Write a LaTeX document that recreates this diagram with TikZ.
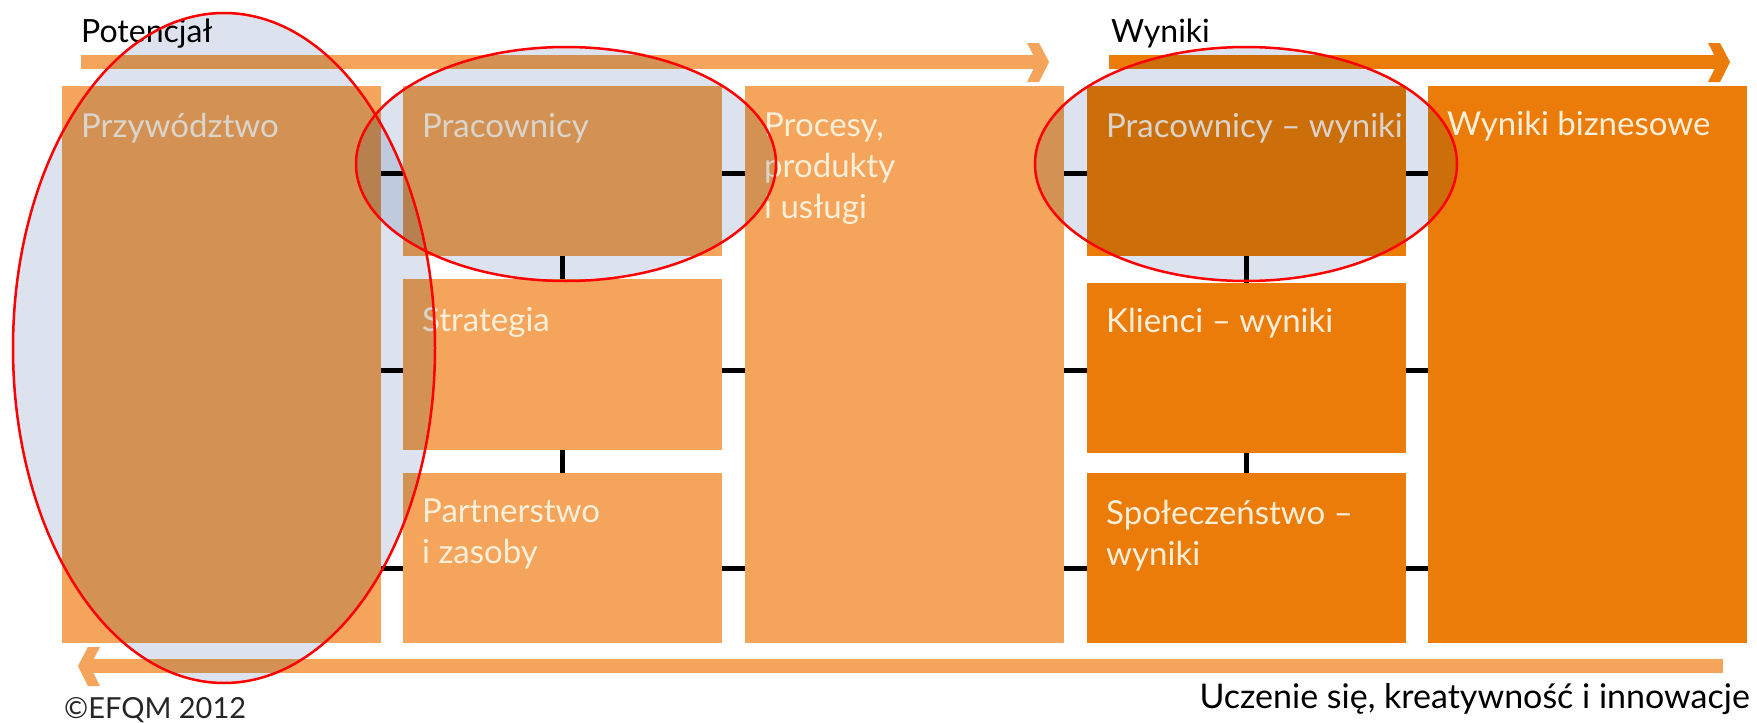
\documentclass[tikz,border=0pt]{standalone}
\usepackage{fontspec}
\setmainfont{Lato}
\usetikzlibrary{calc}

\definecolor{efqmlight}{HTML}{F4A55B}
\definecolor{efqmdark}{HTML}{EC7C0A}
\definecolor{boxtext}{HTML}{FCEFD9}
\definecolor{haze}{HTML}{DDE3EE}

\begin{document}
\begin{tikzpicture}[
    x=1pt, y=-1pt, % one unit = one pixel, y pointing down
    enabler/.style={fill=efqmlight, anchor=north west, inner sep=0pt, minimum width=319pt},
    result/.style={fill=efqmdark, anchor=north west, inner sep=0pt, minimum width=319pt},
    boxlabel/.style={anchor=base west, inner sep=0pt, text=boxtext, align=left,
        font=\fontsize{33}{41}\selectfont},
    heading/.style={inner sep=0pt, font=\fontsize{32}{38}\selectfont},
    link/.style={line width=5pt, black},
    bar/.style={line width=14pt},
    focusring/.style={red, line width=2.5pt}
]

% Page
\fill[white] (0,0) rectangle (1757,723);
\useasboundingbox (0,0) rectangle (1757,723);

% Enablers
\node[enabler, minimum height=557pt] (lead) at (62,86) {};
\node[enabler, minimum height=170pt] (people) at (403,86) {};
\node[enabler, minimum height=171pt] (strategy) at (403,279) {};
\node[enabler, minimum height=170pt] (partners) at (403,473) {};
\node[enabler, minimum height=557pt] (processes) at (745,86) {};

% Results
\node[result, minimum height=170pt] (peopleres) at (1087,86) {};
\node[result, minimum height=170pt] (customers) at (1087,283) {};
\node[result, minimum height=170pt] (society) at (1087,473) {};
\node[result, minimum height=557pt] (business) at (1428,86) {};

% Box texts (base anchor sits on the last line)
\node[boxlabel] (lead-t) at ($(lead.north west)+(19,51)$) {Przywództwo};
\node[boxlabel] (people-t) at ($(people.north west)+(19,51)$) {Pracownicy};
\node[boxlabel] (strategy-t) at ($(strategy.north west)+(19,52)$) {Strategia};
\node[boxlabel] (partners-t) at ($(partners.north west)+(19,90)$) {Partnerstwo\\i zasoby};
\node[boxlabel] (processes-t) at ($(processes.north west)+(19,132)$) {Procesy,\\produkty\\i usługi};
\node[boxlabel] (peopleres-t) at ($(peopleres.north west)+(19,51)$) {Pracownicy – wyniki};
\node[boxlabel] (customers-t) at ($(customers.north west)+(19,49)$) {Klienci – wyniki};
\node[boxlabel] (society-t) at ($(society.north west)+(19,92)$) {Społeczeństwo –\\wyniki};
\node[boxlabel] (business-t) at ($(business.north west)+(19,49)$) {Wyniki biznesowe};

% Links between the columns
\foreach \y in {173,370,568}{
    \draw[link] (lead.east |- 0,\y) -- (strategy.west |- 0,\y);
    \draw[link] (strategy.east |- 0,\y) -- (processes.west |- 0,\y);
    \draw[link] (processes.east |- 0,\y) -- (customers.west |- 0,\y);
    \draw[link] (customers.east |- 0,\y) -- (business.west |- 0,\y);
}

% Links inside the columns
\draw[link] (people.south) -- (strategy.north);
\draw[link] (strategy.south) -- (partners.north);
\draw[link] (peopleres.south) -- (customers.north);
\draw[link] (customers.south) -- (society.north);

% Flow arrows
\coordinate (enablers-start) at (81,62);
\coordinate (enablers-end) at (1040,62);
\coordinate (results-start) at (1109,62);
\coordinate (results-end) at (1721,62);
\coordinate (learning-start) at (1723,666);
\coordinate (learning-end) at (88,666);

\draw[bar, efqmlight] (enablers-start) -- (enablers-end);
\fill[efqmlight] ($(enablers-end)+(-13,-19)$) -- ++(12,0) -- ++(10,19) -- ++(-10,20)
    -- ++(-12,0) -- ++(10,-20) -- cycle;
\draw[bar, efqmdark] (results-start) -- (results-end);
\fill[efqmdark] ($(results-end)+(-13,-19)$) -- ++(12,0) -- ++(10,19) -- ++(-10,20)
    -- ++(-12,0) -- ++(10,-20) -- cycle;
\draw[bar, efqmlight] (learning-start) -- (learning-end);
\fill[efqmlight] ($(learning-end)+(12,-19)$) -- ++(-12,0) -- ++(-10,19) -- ++(10,20)
    -- ++(12,0) -- ++(-10,-20) -- cycle;

% Headings
\node[heading, anchor=base west] (potential) at (81,42) {Potencjał};
\node[heading, anchor=base west] (outcomes) at (1111,42) {Wyniki};
\node[heading, anchor=base east, font=\fontsize{34}{40}\selectfont] (learning) at (1750,708)
    {Uczenie się, kreatywność i innowacje};
\node[heading, anchor=base west, text=black!85, font=\fontsize{29}{34}\selectfont]
    (copyright) at (64,718) {©EFQM 2012};

% Highlighted areas
\begin{scope}[blend mode=multiply]
    \fill[haze] (224,348) ellipse [x radius=211pt, y radius=335pt];
    \fill[haze] (566,164) ellipse [x radius=210pt, y radius=117pt];
    \fill[haze] (1246,164) ellipse [x radius=211pt, y radius=117pt];
\end{scope}
\draw[focusring] (224,348) ellipse [x radius=211pt, y radius=335pt];
\draw[focusring] (566,164) ellipse [x radius=210pt, y radius=117pt];
\draw[focusring] (1246,164) ellipse [x radius=211pt, y radius=117pt];

\end{tikzpicture}
\end{document}
